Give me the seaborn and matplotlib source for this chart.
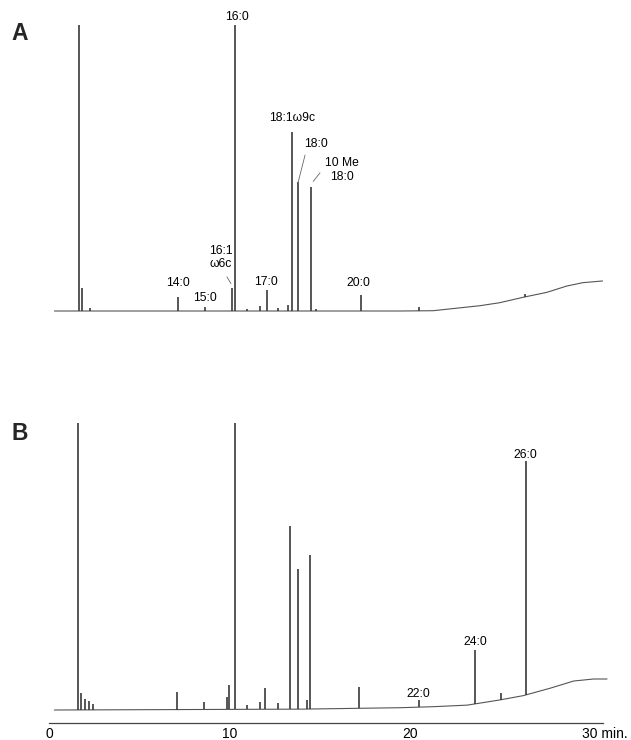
import numpy as np
import pandas as pd
import seaborn as sns
import matplotlib.pyplot as plt
from matplotlib.transforms import ScaledTranslation

# trace A: retention time (min) and apex height (% of full scale)
peak_time_a = [1.67, 1.85, 2.28, 7.17, 8.67, 10.15, 10.33, 11.0, 11.7, 12.1, 12.7,
               13.25, 13.5, 13.83, 14.55, 14.8, 17.28, 20.5, 26.4]
peak_top_a = [100, 8, 1.2, 4.9, 1.4, 8.0, 100, 0.8, 1.7, 7.3, 1.0,
              2.0, 62.6, 45, 43.4, 0.8, 5.6, 1.3, 5.8]
base_time_a = [0.3, 14.0, 19.5, 21.3, 23.9, 25.0, 26.3, 27.6, 28.7, 29.6, 30.7]
base_level_a = [0, 0, 0, 0.1, 1.85, 2.9, 4.8, 6.5, 8.7, 9.9, 10.5]

# trace B
peak_time_b = [1.6, 1.8, 2.0, 2.2, 2.45, 7.1, 8.6, 9.9, 10.0, 10.3, 11.0, 11.7, 12.0,
               12.7, 13.35, 13.8, 14.3, 14.45, 17.2, 20.5, 23.6, 25.05, 26.45]
peak_top_b = [100, 6, 4, 3, 2, 6.3, 2.8, 4.5, 8.7, 100, 1.7, 2.8, 7.7,
              2.4, 64, 49, 3.5, 54, 8, 3.6, 21, 5.8, 86.7]
base_time_b = [0.3, 14.0, 19.5, 21.3, 23.2, 25.0, 26.3, 27.8, 29.1, 30.2, 30.95]
base_level_b = [0, 0.3, 0.8, 1.15, 1.7, 3.5, 5.0, 7.6, 10.1, 10.8, 10.8]

# peak labels (text, time, height)
labels_a = [("16:0", 10.43, 102.8), ("18:1\u03c99c", 13.48, 67.5), ("18:0", 14.81, 58.4),
            ("10 Me\n18:0", 16.25, 49.3), ("16:1\n\u03c96c", 9.54, 18.7), ("14:0", 7.15, 9.8),
            ("15:0", 8.65, 4.5), ("17:0", 12.03, 10.1), ("20:0", 17.14, 9.8)]
leaders_a = [((14.2, 54.5), (13.81, 44.8)), ((15.03, 48.3), (14.65, 45.3)),
             ((9.87, 11.9), (10.09, 9.6))]
labels_b = [("26:0", 26.4, 88.9), ("24:0", 23.63, 23.7), ("22:0", 20.47, 5.6)]

sns.set_style("white")
plt.rcParams['font.family'] = ['Liberation Sans', 'DejaVu Sans']

trace_col = '#3a3a3a'
fig = plt.figure(figsize=(6.31, 7.40), dpi=100)

def draw_trace(ax, ptime, ptop, btime, blevel):
    df = pd.DataFrame({'time': btime, 'signal': blevel})
    sns.lineplot(data=df, x='time', y='signal', ax=ax, color='#555555', lw=0.8)
    for ln in ax.lines:
        ln.set_clip_on(False)
    base = np.interp(ptime, btime, blevel)
    ax.vlines(ptime, base, ptop, color=trace_col, lw=1.2, clip_on=False)
    ax.set_xlim(0, 31.5)
    ax.set_xlabel('')
    ax.set_ylabel('')
    ax.set_yticks([])

ax_a = fig.add_axes([0.07765, 0.57973, 0.9001, 0.38649])
draw_trace(ax_a, peak_time_a, peak_top_a, base_time_a, base_level_a)
ax_a.set_ylim(0, 100)
ax_a.set_xticks([])
sns.despine(ax=ax_a, left=True, bottom=True)
for txt, x, y in labels_a:
    ax_a.text(x, y, txt, ha='center', va='center', fontsize=8.7, color='#000000',
              linespacing=1.2)
for (x0, y0), (x1, y1) in leaders_a:
    ax_a.plot([x0, x1], [y0, y1], color='#666666', lw=0.6, clip_on=False)

ax_b = fig.add_axes([0.07765, 0.02297, 0.9001, 0.40541])
draw_trace(ax_b, peak_time_b, peak_top_b, base_time_b, base_level_b)
ax_b.set_ylim(-4.53, 100)
sns.despine(ax=ax_b, left=True)
ax_b.spines['bottom'].set_bounds(0, 30.7)
ax_b.spines['bottom'].set_color('#444444')
ax_b.spines['bottom'].set_linewidth(0.9)
ax_b.set_xticks([0, 10, 20, 30])
ax_b.set_xticklabels(['0', '10', '20', '30 min.'])
ax_b.tick_params(axis='x', length=0, pad=3.2, labelsize=10, labelcolor='#000000')
last = ax_b.get_xticklabels()[-1]
last.set_horizontalalignment('left')
last.set_transform(last.get_transform() + ScaledTranslation(-5.6 / 72, 0, fig.dpi_scale_trans))
for txt, x, y in labels_b:
    ax_b.text(x, y, txt, ha='center', va='center', fontsize=8.7, color='#000000')

fig.text(20 / 631, 1 - 33 / 740, 'A', fontsize=16.5, fontweight='bold', ha='center', va='center')
fig.text(20 / 631, 1 - 433 / 740, 'B', fontsize=16.5, fontweight='bold', ha='center', va='center')

fig.savefig('out.png', dpi=100)
